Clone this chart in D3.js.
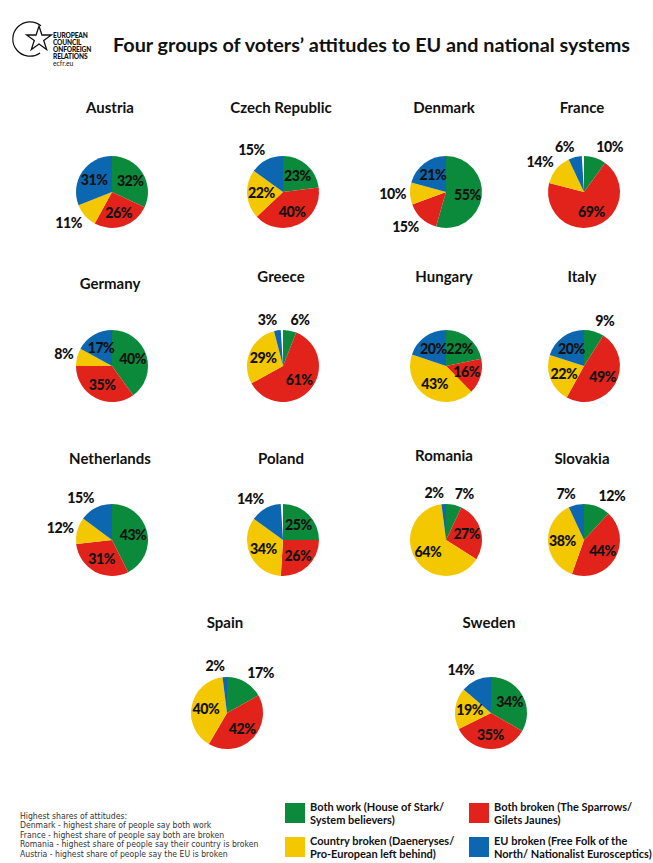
<!DOCTYPE html>
<html>
<head>
<meta charset="utf-8">
<script src="https://cdn.jsdelivr.net/npm/d3@7"></script>
<style>
  html, body { margin: 0; padding: 0; background: #fff; }
  svg { display: block; }
</style>
</head>
<body>
<svg id="chart" width="653" height="863"></svg>
<script>
// ---------------- DATA ----------------
const countries = ["Austria","Czech Republic","Denmark","France","Germany","Greece","Hungary","Italy","Netherlands","Poland","Romania","Slovakia","Spain","Sweden"];
const bothWork      = [32, 23, 55, 10, 40,  6, 22,  9, 43, 25,  7, 12, 17, 34];
const bothBroken    = [26, 40, 15, 69, 35, 61, 16, 49, 31, 26, 27, 44, 42, 35];
const countryBroken = [11, 22, 10, 14,  8, 29, 43, 22, 12, 34, 64, 38, 40, 19];
const euBroken      = [31, 15, 21,  6, 17,  3, 20, 20, 15, 14,  2,  7,  2, 14];
const groupNames = ["Both work (House of Stark/|System believers)", "Both broken (The Sparrows/|Gilets Jaunes)",
                    "Country broken (Daeneryses/|Pro-European left behind)", "EU broken (Free Folk of the|North/ Nationalist Eurosceptics)"];
const groupColors = ["#0b8a3c", "#e2231c", "#f4c800", "#0d67b0"];
const footnote = ["Highest shares of attitudes:",
  "Denmark - highest share of people say both work",
  "France - highest share of people say both are broken",
  "Romania - highest share of people say their country is broken",
  "Austria - highest share of people say the EU is broken"];
const title = "Four groups of voters\u2019 attitudes to EU and national systems";
const logoLines = ["EUROPEAN", "COUNCIL", "ONFOREIGN", "RELATIONS"];

// ---------------- LAYOUT / STYLE ----------------
const rowY = [192, 366, 540, 713];
const colX = [112, 283, 446, 584];
const lastRowX = [227, 491];
const titleOffset = [-79, -79, -79, -79, -77, -84, -84, -84, -76, -76, -79, -76, -85, -85];
const outsideThreshold = 15;          // labels of slices this small sit outside the pie
const forcedOutside = ["Spain:0"];    // extra outside labels (country:slice)
const R = 36;
const FONT = "Lato, 'Open Sans', 'DejaVu Sans', sans-serif";

const svg = d3.select("#chart");

// Logo
const logo = svg.append("g");
logo.append("path")
  .attr("d", d3.arc()({innerRadius: 16.6, outerRadius: 17.8, startAngle: Math.PI * 0.80, endAngle: Math.PI * 2.22}))
  .attr("transform", "translate(30,39)")
  .attr("fill", "#111");
logo.append("path")
  .attr("d", d3.symbol(d3.symbolStar, 190)())
  .attr("transform", "translate(39,39)")
  .attr("fill", "#fff").attr("stroke", "#111").attr("stroke-width", 1.3).attr("stroke-linejoin", "miter");
logo.selectAll("text.l").data(logoLines).join("text")
  .attr("x", 53).attr("y", (d, i) => 38 + i * 7)
  .attr("font-family", FONT).attr("font-weight", 900).attr("font-size", 6.6)
  .attr("letter-spacing", -0.15)
  .attr("fill", "#111").text(d => d);
logo.append("text").attr("x", 53).attr("y", 66)
  .attr("font-family", FONT).attr("font-size", 6.8).attr("fill", "#111").text("ecfr.eu");

// Title
svg.append("text")
  .attr("x", 113).attr("y", 52)
  .attr("font-family", FONT).attr("font-weight", 700).attr("font-size", 18.5)
  .attr("textLength", 517).attr("lengthAdjust", "spacingAndGlyphs")
  .attr("fill", "#111").text(title);

// Pie charts
const pieData = countries.map((c, i) => {
  const vals = [bothWork[i], bothBroken[i], countryBroken[i], euBroken[i]];
  const row = Math.floor(i / 4), col = i % 4;
  const cx = row < 3 ? colX[col] : lastRowX[col];
  return {country: c, vals, cx, cy: rowY[row], tdy: titleOffset[i]};
});

const arc = d3.arc().innerRadius(0).outerRadius(R);
const inArc = d3.arc().innerRadius(R * 0.6).outerRadius(R * 0.6);

pieData.forEach(p => {
  const sum = d3.sum(p.vals);
  const pieGen = d3.pie().sort(null).value(d => d.v)
    .startAngle(0).endAngle(2 * Math.PI * Math.min(sum, 100) / 100);
  const slices = pieGen(p.vals.map((v, k) => ({v, k})));
  const isOut = d => d.data.v <= outsideThreshold || forcedOutside.includes(p.country + ":" + d.data.k);
  const g = svg.append("g").attr("transform", `translate(${p.cx},${p.cy})`);
  g.selectAll("path").data(slices).join("path")
    .attr("d", arc)
    .attr("fill", d => groupColors[d.data.k]);
  g.selectAll("text").data(slices).join("text")
    .each(function(d) {
      const a = (d.startAngle + d.endAngle) / 2;
      const t = d3.select(this);
      if (isOut(d)) {
        const x = Math.sin(a) * (R + 4), y = -Math.cos(a) * (R + 11);
        t.attr("x", x).attr("y", y).attr("text-anchor", a > Math.PI ? "end" : "start");
      } else {
        const [x, y] = inArc.centroid(d);
        t.attr("x", x).attr("y", y).attr("text-anchor", "middle");
      }
    })
    .attr("dy", "0.36em")
    .attr("font-family", FONT).attr("font-weight", 900).attr("font-size", 14.2)
    .attr("letter-spacing", -0.5)
    .attr("fill", "#111")
    .text(d => d.data.v + "%");
  svg.append("text")
    .attr("x", p.cx - 2).attr("y", p.cy + p.tdy)
    .attr("text-anchor", "middle")
    .attr("font-family", FONT).attr("font-weight", 700).attr("font-size", 15)
    .attr("fill", "#111").text(p.country);
});

// Footnote
svg.append("g").selectAll("text").data(footnote).join("text")
  .attr("x", 20).attr("y", (d, i) => 819 + i * 9.4)
  .attr("font-family", "'Liberation Sans Narrow', 'DejaVu Sans Condensed', sans-serif")
  .attr("font-size", 8.6).attr("fill", "#333").text(d => d);

// Legend
const legX = [285, 469], legY = [803, 837];
const leg = svg.append("g");
groupNames.forEach((name, i) => {
  const x = legX[i % 2], y = legY[Math.floor(i / 2)];
  leg.append("rect").attr("x", x).attr("y", y).attr("width", 20).attr("height", 20).attr("fill", groupColors[i]);
  name.split("|").forEach((line, j) => {
    leg.append("text").attr("x", x + 25).attr("y", y + 8 + j * 13)
      .attr("font-family", FONT).attr("font-weight", 700).attr("font-size", 11)
      .attr("fill", "#111").text(line);
  });
});
</script>
</body>
</html>
